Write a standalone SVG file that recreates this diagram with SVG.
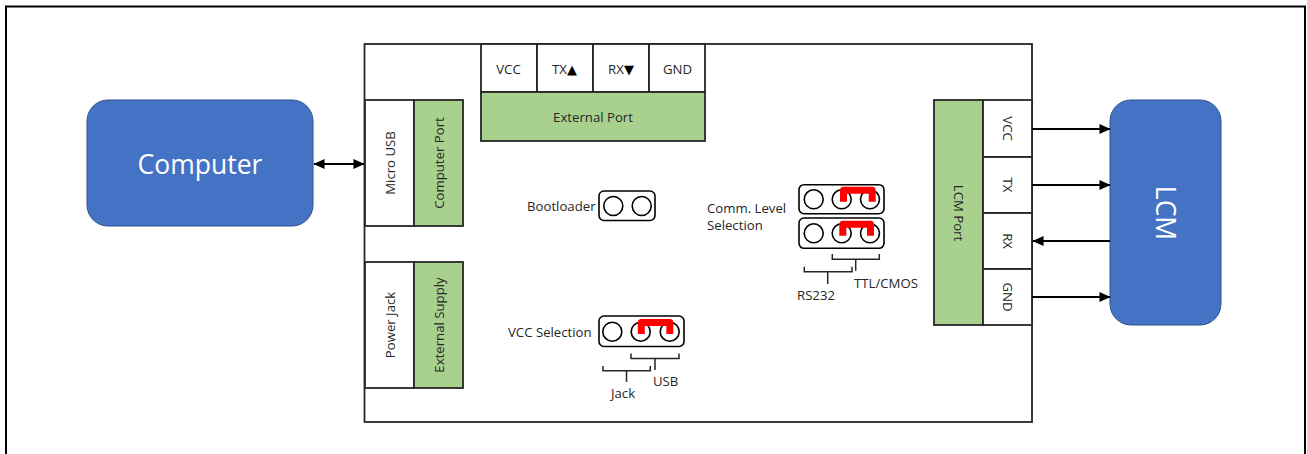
<svg xmlns="http://www.w3.org/2000/svg" width="1307" height="454" viewBox="0 0 1307 454">
<defs>
<style>
text{font-family:"Open Sans","Noto Sans","DejaVu Sans",sans-serif;font-size:13.2px;fill:#262626}
.m{text-anchor:middle}
.big{font-size:26.500px;fill:#fff;text-anchor:middle}
.tri{font-family:"DejaVu Sans",sans-serif;font-size:13px;fill:#000}
.cell{fill:#fff;stroke:#262626;stroke-width:1.8}
.green{fill:#a9d18e;stroke:#262626;stroke-width:1.8}
.blue{fill:#4472c4;stroke:#2f528f;stroke-width:1}
.jumper{fill:#fff;stroke:#000;stroke-width:1.6}
.pin{fill:none;stroke:#000;stroke-width:1.6}
.cap{fill:none;stroke:#f00;stroke-width:7;stroke-linejoin:round}
.br{fill:none;stroke:#262626;stroke-width:1.5}
.wire{fill:none;stroke:#000;stroke-width:2.200}
</style>
<marker id="a" markerWidth="12" markerHeight="10" refX="9.5" refY="4.500" orient="auto-start-reverse" markerUnits="userSpaceOnUse" viewBox="0 0 10 9"><path d="M0 0L10 4.500L0 9Z" fill="#000"/></marker>
</defs>
<path id="frame" d="M6 454V6.500H1305V454" fill="none" stroke="#000" stroke-width="2"/>
<g id="board"><rect x="364.500" y="44" width="667.500" height="378" fill="#fff" stroke="#262626" stroke-width="1.800"/></g>
<g id="computer"><rect class="blue" x="87" y="100" width="226" height="126" rx="21"/><text class="big" x="200" y="173.500">Computer</text></g>
<g id="lcm"><rect class="blue" x="1110" y="100" width="111" height="225" rx="21"/><text class="big" transform="translate(1156 213) rotate(90)">LCM</text></g>
<g id="micro-usb"><rect class="cell" x="365" y="100" width="49" height="126"/><text class="m" transform="translate(394.500 163) rotate(-90)">Micro USB</text></g>
<g id="computer-port"><rect class="green" x="414" y="100" width="49" height="126"/><text class="m" transform="translate(443.500 163) rotate(-90)">Computer Port</text></g>
<g id="power-jack"><rect class="cell" x="365" y="262" width="49" height="126"/><text class="m" transform="translate(394.500 325) rotate(-90)">Power Jack</text></g>
<g id="external-supply"><rect class="green" x="414" y="262" width="49" height="126"/><text class="m" transform="translate(443.500 325) rotate(-90)">External Supply</text></g>
<g id="ext-vcc"><rect class="cell" x="481" y="44" width="56" height="48"/><text class="m" x="508.500" y="73.500">VCC</text></g>
<g id="ext-tx"><rect class="cell" x="537" y="44" width="56" height="48"/><text class="m" x="564.500" y="73.500">TX<tspan class="tri">▲</tspan></text></g>
<g id="ext-rx"><rect class="cell" x="593" y="44" width="56" height="48"/><text class="m" x="621" y="73.500">RX<tspan class="tri">▼</tspan></text></g>
<g id="ext-gnd"><rect class="cell" x="649" y="44" width="56" height="48"/><text class="m" x="677.500" y="73.500">GND</text></g>
<g id="external-port"><rect class="green" x="481" y="92" width="224" height="49"/><text class="m" x="593" y="122">External Port</text></g>
<g id="lcm-port"><rect class="green" x="934" y="100" width="49" height="225"/><text class="m" transform="translate(953.500 213) rotate(90)">LCM Port</text></g>
<g id="lcm-vcc"><rect class="cell" x="983" y="100" width="49" height="57"/><text class="m" transform="translate(1002.500 128.500) rotate(90)">VCC</text></g>
<g id="lcm-tx"><rect class="cell" x="983" y="157" width="49" height="56"/><text class="m" transform="translate(1002.500 185) rotate(90)">TX</text></g>
<g id="lcm-rx"><rect class="cell" x="983" y="213" width="49" height="56"/><text class="m" transform="translate(1002.500 241) rotate(90)">RX</text></g>
<g id="lcm-gnd"><rect class="cell" x="983" y="269" width="49" height="56"/><text class="m" transform="translate(1002.500 297) rotate(90)">GND</text></g>
<g id="bootloader"><text x="527" y="211">Bootloader</text><rect class="jumper" x="599" y="191" width="56" height="29.500" rx="5"/><circle class="pin" cx="613.300" cy="206" r="9.500"/><circle class="pin" cx="641.700" cy="206" r="9.500"/></g>
<g id="vcc-selection"><text x="508" y="336.500">VCC Selection</text><rect class="jumper" x="599" y="316" width="85" height="30.500" rx="5"/><circle class="pin" cx="612.300" cy="331.700" r="9.500"/><circle class="pin" cx="640.700" cy="331.700" r="9.500"/><circle class="pin" cx="669.700" cy="331.700" r="9.500"/><path class="cap" d="M641.300 334V322.500H669.800V334"/>
<path class="br" d="M631 353.500V358.500H679V353.500M655 358.500V370M603 366V370.700H650.300V366M626.500 370.700V382"/><text x="653" y="386">USB</text><text x="611" y="398">Jack</text></g>
<g id="comm-level"><text x="707" y="212.500">Comm. Level</text><text x="707" y="230">Selection</text><rect class="jumper" x="799" y="184.700" width="85" height="29" rx="5"/><rect class="jumper" x="799" y="218" width="85" height="30.300" rx="5"/><circle class="pin" cx="813.700" cy="199.300" r="9.500"/><circle class="pin" cx="841.700" cy="199.300" r="9.500"/><circle class="pin" cx="870" cy="199.300" r="9.500"/><circle class="pin" cx="813.700" cy="233.300" r="9.500"/><circle class="pin" cx="841.700" cy="233.300" r="9.500"/><circle class="pin" cx="870" cy="233.300" r="9.500"/><path class="cap" d="M843.500 201.700V190.200H872.200V201.700"/><path class="cap" d="M842.800 235.700V224.200H870.500V235.700"/>
<path class="br" d="M832.300 254V259.300H879.300V254M855.700 259.300V270.700M804.300 266.700V271.700H852V266.700M827.700 271.700V284"/><text x="854" y="288">TTL/CMOS</text><text x="797" y="300">RS232</text></g>
<g id="connectors">
<path class="wire" d="M314 164H364" marker-start="url(#a)" marker-end="url(#a)"/>
<path class="wire" d="M1032 129H1110" marker-end="url(#a)"/>
<path class="wire" d="M1032 185H1110" marker-end="url(#a)"/>
<path class="wire" d="M1110 241H1033" marker-end="url(#a)"/>
<path class="wire" d="M1032 297H1110" marker-end="url(#a)"/>
</g>
</svg>
